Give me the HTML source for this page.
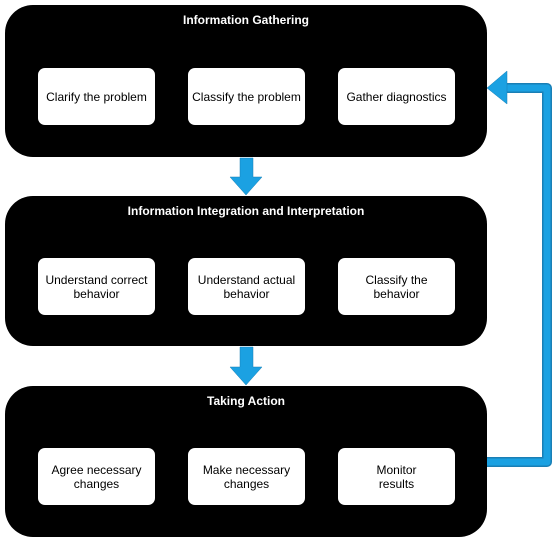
<!DOCTYPE html>
<html><head><style>
body{margin:0;width:557px;height:542px;background:#fff;font-family:"Liberation Sans",Arial,sans-serif;position:relative;overflow:hidden}
.big{position:absolute;left:5px;width:482px;background:#000;border-radius:28px}
.t{position:absolute;left:0;right:0;top:8px;text-align:center;color:#fff;font-weight:bold;font-size:12px}
.in{position:absolute;width:117px;height:57px;background:#fff;border-radius:7px;display:flex;align-items:center;justify-content:center;text-align:center;font-size:12px;color:#000;line-height:14px}
</style></head><body>
<div class="big" style="top:5px;height:152px"><div class="t">Information Gathering</div>
<div class="in" style="left:33px;top:63px">Clarify the problem</div>
<div class="in" style="left:183px;top:63px">Classify the problem</div>
<div class="in" style="left:333px;top:63px">Gather diagnostics</div></div>
<div class="big" style="top:196px;height:150px"><div class="t">Information Integration and Interpretation</div>
<div class="in" style="left:33px;top:62px">Understand correct<br>behavior</div>
<div class="in" style="left:183px;top:62px">Understand actual<br>behavior</div>
<div class="in" style="left:333px;top:62px">Classify the<br>behavior</div></div>
<div class="big" style="top:386px;height:151px"><div class="t">Taking Action</div>
<div class="in" style="left:33px;top:62px">Agree necessary<br>changes</div>
<div class="in" style="left:183px;top:62px">Make necessary<br>changes</div>
<div class="in" style="left:333px;top:62px">Monitor<br>results</div></div>
<svg width="557" height="542" style="position:absolute;left:0;top:0">
<g fill="#1ba1e2" stroke="#1a7fb5" stroke-width="0.5">
<polygon points="240,158 253,158 253,177 262,177 246,195 230,177 240,177"/>
<polygon points="240,347 253,347 253,367 262,367 246,385 230,367 240,367"/>
</g>
<path d="M487,462 H547 V88 H505" fill="none" stroke="#1a7fb5" stroke-width="10" stroke-linejoin="round"/>
<path d="M487,462 H547 V88 H505" fill="none" stroke="#1ba1e2" stroke-width="7" stroke-linejoin="round"/>
<polygon points="487,88 507,71 507,104" fill="#1ba1e2" stroke="#1a7fb5" stroke-width="0.5"/>
</svg>
</body></html>
